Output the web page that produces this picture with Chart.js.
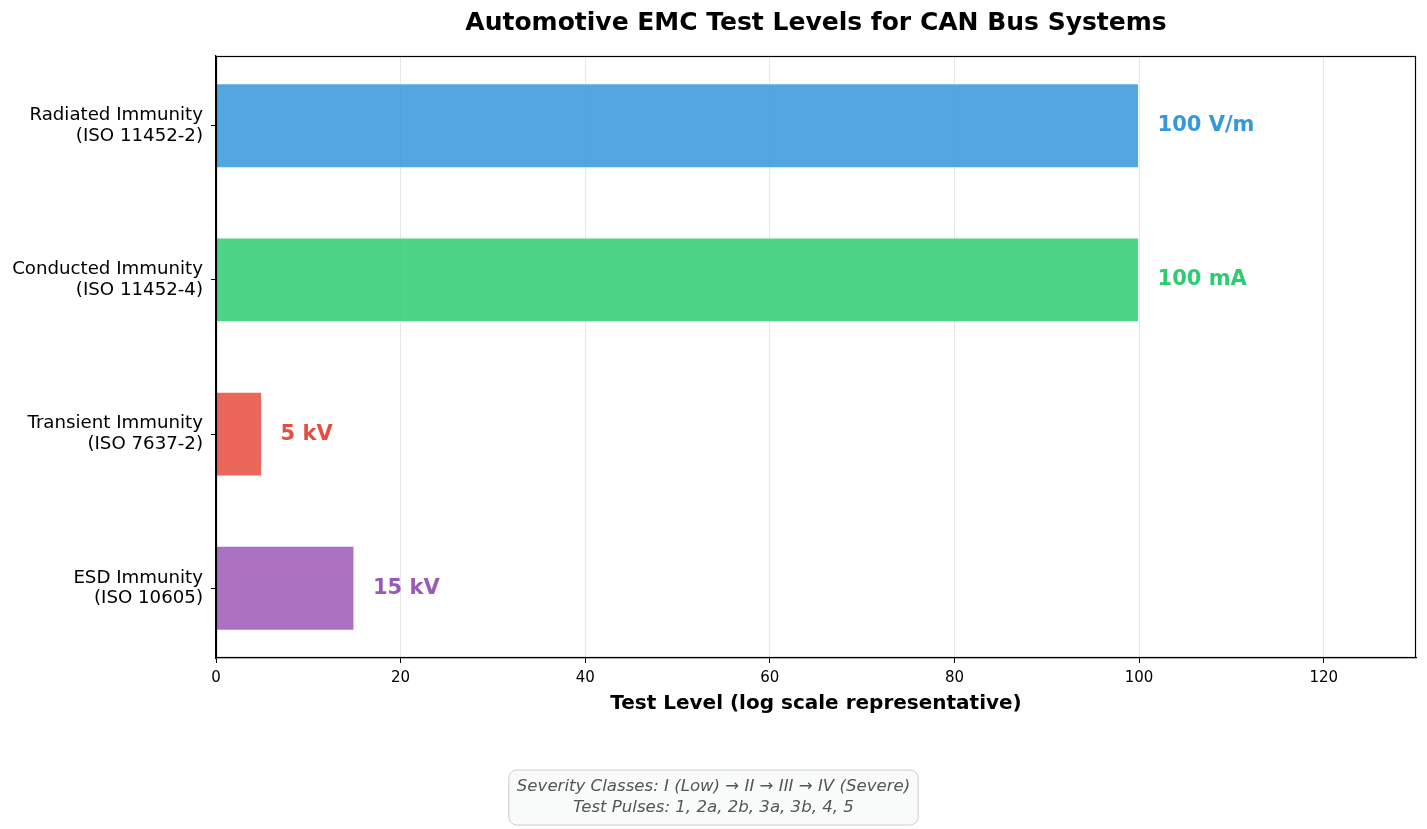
<!DOCTYPE html>
<html>
<head>
<meta charset="utf-8">
<script src="https://cdn.jsdelivr.net/npm/chart.js@4.4.1/dist/chart.umd.min.js"></script>
<style>
  html, body { margin: 0; padding: 0; background: #fff; }
  #wrap { width: 1427px; height: 829px; }
</style>
</head>
<body>
<div id="wrap"><canvas id="chart" width="1427" height="829"></canvas></div>
<script>
const categorias = [
  ["Radiated Immunity", "(ISO 11452-2)"],
  ["Conducted Immunity", "(ISO 11452-4)"],
  ["Transient Immunity", "(ISO 7637-2)"],
  ["ESD Immunity", "(ISO 10605)"]
];
const niveles = [100, 100, 5, 15];
const etiquetas = ["100 V/m", "100 mA", "5 kV", "15 kV"];
const colores = ["#3498db", "#2ecc71", "#e74c3c", "#9b59b6"];
const xTicks = [0, 20, 40, 60, 80, 100, 120];
const notaLineas = [
  "Severity Classes: I (Low) \u2192 II \u2192 III \u2192 IV (Severe)",
  "Test Pulses: 1, 2a, 2b, 3a, 3b, 4, 5"
];

const FONT = "'DejaVu Sans', sans-serif";

function conAlpha(hex, a) {
  const n = parseInt(hex.slice(1), 16);
  return `rgba(${(n >> 16) & 255}, ${(n >> 8) & 255}, ${n & 255}, ${a})`;
}

// marco completo alrededor del area
const marco = {
  id: "marco",
  afterDraw(chart) {
    const { ctx, chartArea: a } = chart;
    ctx.save();
    ctx.strokeStyle = "#000";
    ctx.lineWidth = 1.2;
    ctx.strokeRect(a.left + 0.5, a.top + 0.5, a.right - a.left - 1, a.bottom - a.top - 1);
    ctx.restore();
  }
};

// textos de valor junto a cada barra
const valores = {
  id: "valores",
  afterDatasetsDraw(chart) {
    const { ctx } = chart;
    const xs = chart.scales.x;
    const meta = chart.getDatasetMeta(0);
    ctx.save();
    ctx.font = `bold 21px ${FONT}`;
    ctx.textAlign = "left";
    ctx.textBaseline = "middle";
    meta.data.forEach((bar, i) => {
      ctx.fillStyle = colores[i];
      ctx.fillText(etiquetas[i], xs.getPixelForValue(niveles[i] + 2), bar.y);
    });
    ctx.restore();
  }
};

// caja de nota al pie
const nota = {
  id: "nota",
  afterDraw(chart) {
    const { ctx } = chart;
    ctx.save();
    ctx.font = `italic 16.6px ${FONT}`;
    const w = Math.max(...notaLineas.map(t => ctx.measureText(t).width)) + 16;
    const h = 55;
    const cx = chart.width / 2;
    const x = cx - w / 2, y = 770;
    ctx.beginPath();
    ctx.roundRect(x, y, w, h, 8);
    ctx.fillStyle = "rgba(248, 249, 250, 0.9)";
    ctx.fill();
    ctx.strokeStyle = "#cccccc";
    ctx.lineWidth = 1;
    ctx.stroke();
    ctx.fillStyle = "#555555";
    ctx.textAlign = "center";
    ctx.textBaseline = "middle";
    ctx.fillText(notaLineas[0], cx, y + 17);
    ctx.fillText(notaLineas[1], cx, y + 38);
    ctx.restore();
  }
};

new Chart(document.getElementById("chart"), {
  type: "bar",
  data: {
    datasets: [{
      data: niveles.map((v, i) => ({ x: v, y: i })),
      backgroundColor: colores.map(c => conAlpha(c, 0.85)),
      borderColor: "rgba(255,255,255,0.9)",
      borderWidth: 1,
      barPercentage: 0.55,
      categoryPercentage: 1
    }]
  },
  options: {
    indexAxis: "y",
    responsive: false,
    animation: false,
    layout: { padding: { left: 0, right: 11, top: 0, bottom: 113 } },
    plugins: {
      legend: { display: false },
      tooltip: { enabled: false },
      title: {
        display: true,
        fullSize: false,
        text: "Automotive EMC Test Levels for CAN Bus Systems",
        color: "#000",
        font: { family: FONT, size: 25, weight: "bold" },
        padding: { top: 8, bottom: 18 }
      }
    },
    scales: {
      x: {
        type: "linear",
        min: 0,
        max: 130,
        afterBuildTicks: s => { s.ticks = xTicks.map(v => ({ value: v })); },
        afterFit: s => { s.height = 58; },
        grid: { color: "#e6e6e6", tickColor: "#000", tickLength: 5 },
        border: { color: "#000", width: 1.2 },
        ticks: { color: "#000", padding: 6, font: { family: FONT, size: 15 } },
        title: {
          display: true,
          text: "Test Level (log scale representative)",
          color: "#000",
          font: { family: FONT, size: 20, weight: "bold" },
          padding: { top: 0, bottom: 0 }
        }
      },
      y: {
        type: "linear",
        reverse: true,
        offset: false,
        min: -0.4525,
        max: 3.4525,
        afterBuildTicks: s => { s.ticks = categorias.map((c, i) => ({ value: i })); },
        afterFit: s => { s.width = 216; },
        grid: { offset: false, drawOnChartArea: false, tickColor: "#000", tickLength: 5 },
        border: { color: "#000", width: 1.2 },
        ticks: {
          color: "#000",
          padding: 8,
          font: { family: FONT, size: 18.2, lineHeight: 1.15 },
          callback: v => categorias[v]
        }
      }
    }
  },
  plugins: [marco, valores, nota]
});
</script>
</body>
</html>
